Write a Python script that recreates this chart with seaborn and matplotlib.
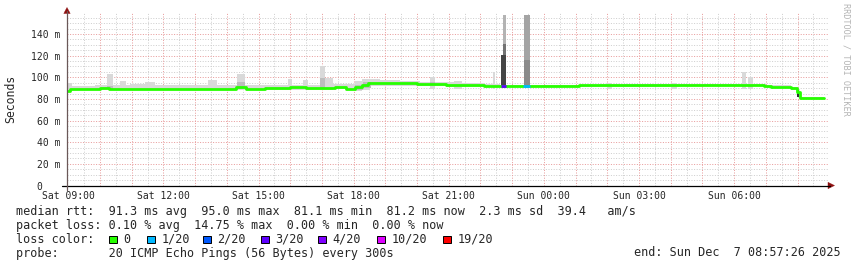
import numpy as np
import pandas as pd
import matplotlib
matplotlib.use("Agg")
import matplotlib.pyplot as plt
from matplotlib.patches import Rectangle, Polygon
from matplotlib.lines import Line2D
import seaborn as sns

# ------------------------------------------------------------------ data
# time is expressed in hours after "Sat 09:00"
view_start_h, view_end_h = -0.04, 23.96

# median rtt (ms) as step segments: value holds from t until next t
median_t = [-0.04, 0.06, 1.0, 1.3, 5.3, 5.6, 6.0, 6.2, 7.0, 7.5, 8.4, 8.75,
            9.05, 9.25, 9.45, 11.0, 11.9, 13.1, 14.36, 14.57, 16.1, 18.3,
            21.95, 22.15, 22.4, 22.55, 22.8, 22.97, 23.08]
median_ms = [87.8, 89.5, 89.8, 89.5, 90.6, 89.6, 89.2, 90.3, 90.6, 89.8, 91.0, 89.4,
             91.0, 92.6, 94.4, 94.0, 93.0, 92.3, 91.6, 92.2, 92.6, 93.2,
             91.7, 90.8, 91.3, 90.6, 89.8, 86.8, 81.2]
median_end_h = 23.82

# light smoke band (ms) around the median, step segments
band_t = [-0.04, 0.13, 0.85, 1.96, 2.74, 4.16, 5.58, 7.0, 8.36, 8.9, 9.05, 9.27,
          9.53, 9.84, 10.47, 11.1, 11.9, 12.43, 13.15, 13.63, 14.57, 16.78,
          19.3, 21.99, 22.78, 23.0, 23.09]
band_lo = [87.0, 88.0, 88.0, 88.0, 88.0, 88.0, 88.5, 88.5, 89.0, 88.0, 87.0, 88.5,
           92.0, 92.3, 92.3, 92.0, 91.5, 91.0, 91.0, 91.5, 91.5, 91.5,
           92.0, 90.3, 88.5, 81.0, 80.6]
band_hi = [94.4, 92.0, 92.5, 93.8, 93.3, 92.8, 92.8, 93.3, 93.8, 94.0, 97.0, 98.0,
           98.5, 97.5, 96.6, 96.0, 95.5, 94.5, 93.8, 92.8, 93.3, 93.8,
           94.2, 92.8, 90.8, 89.0, 82.0]

# light grey smoke bumps (single outlying pings)
bump_t0 = [1.23, 1.64, 2.43, 4.42, 5.33, 6.94, 7.41, 7.95, 8.11, 11.42, 12.15,
           13.38, 17.0, 19.0, 21.26, 21.45]
bump_t1 = [1.42, 1.83, 2.74, 4.70, 5.58, 7.07, 7.57, 8.11, 8.36, 11.58, 12.43,
           13.47, 17.15, 19.2, 21.36, 21.61]
bump_hi = [103.0, 97.0, 96.0, 97.5, 103.0, 98.4, 97.5, 110.7, 99.0, 100.5, 96.9,
           105.0, 94.5, 94.5, 105.0, 100.0]

# darker inner smoke layers
mid_t0 = [1.23, 5.33, 7.95, 9.05, 9.3, 11.42]
mid_t1 = [1.42, 5.58, 8.11, 9.3, 9.55, 11.58]
mid_lo = [89.0, 89.5, 90.0, 88.0, 90.0, 93.0]
mid_hi = [92.0, 96.0, 99.6, 93.0, 96.0, 96.0]

# high-latency spikes, layered from outer to inner
spike_t0 = [13.71, 13.71, 13.65, 14.38, 14.38, 22.97]
spike_t1 = [13.82, 13.82, 13.82, 14.57, 14.57, 23.05]
spike_lo = [131.0, 121.0, 92.0, 116.0, 92.0, 81.5]
spike_hi = [158.0, 131.0, 121.0, 158.0, 116.0, 88.5]
spike_shade = ["#b3b3b3", "#737373", "#454545", "#a4a4a4", "#8a8a8a", "#303030"]

# packet-loss periods (colored median)
loss_t0 = [13.65, 14.34]
loss_t1 = [13.82, 14.57]
loss_level = ["3/20", "1/20"]

x_tick_hours = [0, 3, 6, 9, 12, 15, 18, 21]
x_tick_labels = ["Sat 09:00", "Sat 12:00", "Sat 15:00", "Sat 18:00",
                 "Sat 21:00", "Sun 00:00", "Sun 03:00", "Sun 06:00"]
y_ticks_ms = [0, 20, 40, 60, 80, 100, 120, 140]
y_tick_labels = ["0   ", "20 m", "40 m", "60 m", "80 m", "100 m", "120 m", "140 m"]

legend_names = ["0", "1/20", "2/20", "3/20", "4/20", "10/20", "19/20"]
legend_colors = ["#26ff00", "#00b8ff", "#0059ff", "#5e00ff", "#7e00ff", "#dd00ff", "#ff0000"]

stats_lines = [
    "median rtt:  91.3 ms avg  95.0 ms max  81.1 ms min  81.2 ms now  2.3 ms sd  39.4   am/s",
    "packet loss: 0.10 % avg  14.75 % max  0.00 % min  0.00 % now",
    "loss color:",
    "probe:       20 ICMP Echo Pings (56 Bytes) every 300s",
]
end_text = "end: Sun Dec  7 08:57:26 2025"
side_text = "RRDTOOL / TOBI OETIKER"

# ------------------------------------------------------------------ style
sns.set_style("white")
MONO = ["DejaVu Sans Mono"]
plt.rcParams["font.family"] = MONO

W, H = 857, 267
fig = plt.figure(figsize=(W / 100, H / 100), dpi=100)
fig.patch.set_facecolor("white")

x0, x1, ybot, ytop = 67, 828, 185.5, 12.4
ax = fig.add_axes([x0 / W, 1 - ybot / H, (x1 - x0) / W, (ybot - ytop) / H])
ax.set_xlim(view_start_h, view_end_h)
ax.set_ylim(0, 160)
for s in ax.spines.values():
    s.set_visible(False)

# grid (dotted lines)
minor_col, major_col = "#cfcfcf", "#e89c9c"
gkw = dict(lw=0.72, ls=(0, (1, 1.6)), antialiased=True)
for h in np.arange(0.5, 24, 1.0):
    ax.axvline(h, color=minor_col, zorder=0.5, **gkw)
for h in np.arange(1, 24, 1.0):
    ax.axvline(h, color=major_col, zorder=0.6, **gkw)
for v in np.arange(5, 160, 5):
    if v % 20:
        ax.axhline(v, color=minor_col, zorder=0.5, **gkw)
for v in np.arange(20, 160, 20):
    ax.axhline(v, color=major_col, zorder=0.6, **gkw)

# smoke band
bt = band_t + [median_end_h]
ax.fill_between(bt, band_lo + [band_lo[-1]], band_hi + [band_hi[-1]],
                step="post", color="#d9d9d9", lw=0, zorder=1)
# bumps
for a, b, hi in zip(bump_t0, bump_t1, bump_hi):
    ax.fill_between([a, b], [89, 89], [hi, hi], color="#d9d9d9", lw=0, zorder=1.1)
for a, b, lo, hi in zip(mid_t0, mid_t1, mid_lo, mid_hi):
    ax.fill_between([a, b], [lo, lo], [hi, hi], color="#bdbdbd", lw=0, zorder=1.2)
for a, b, lo, hi, c in zip(spike_t0, spike_t1, spike_lo, spike_hi, spike_shade):
    ax.fill_between([a, b], [lo, lo], [hi, hi], color=c, lw=0, zorder=1.3)

# median line
med = pd.DataFrame({"t": median_t + [median_end_h], "ms": median_ms + [median_ms[-1]]})
sns.lineplot(data=med, x="t", y="ms", drawstyle="steps-post", color=legend_colors[0],
             lw=2.0, estimator=None, sort=False, ax=ax, zorder=4)

def median_at(t):
    i = np.searchsorted(median_t, t, side="right") - 1
    return median_ms[max(i, 0)]

for a, b, lvl in zip(loss_t0, loss_t1, loss_level):
    v = median_at((a + b) / 2)
    ax.plot([a, b], [v, v], color=legend_colors[legend_names.index(lvl)], lw=2.0,
            solid_capstyle="butt", zorder=5)

ax.set_xlabel("")
ax.set_ylabel("")
ax.set_xticks(x_tick_hours)
ax.set_xticklabels(x_tick_labels, fontsize=7, family=MONO)
ax.set_yticks(y_ticks_ms)
ax.set_yticklabels(y_tick_labels, fontsize=7, family=MONO)
ax.tick_params(axis="x", length=0, pad=4)
ax.tick_params(axis="y", length=0, pad=5)

# axes lines and arrows (figure pixel coordinates)
def P(x, y):
    return (x / W, 1 - y / H)

fig.add_artist(Line2D([62 / W, 830 / W], [1 - ybot / H] * 2, color="black", lw=0.9,
                      transform=fig.transFigure))
fig.add_artist(Line2D([x0 / W] * 2, [1 - 190 / H, 1 - 11 / H], color="#6a5858", lw=0.9,
                      transform=fig.transFigure))
arrow_col = "#8e1010"
fig.add_artist(Polygon([P(828, 182.3), P(834.5, 185.5), P(828, 188.7)], closed=True,
                       fc=arrow_col, ec=arrow_col, lw=0.3, transform=fig.transFigure))
fig.add_artist(Polygon([P(63.8, 13.5), P(67, 7.5), P(70.2, 13.5)], closed=True,
                       fc=arrow_col, ec=arrow_col, lw=0.3, transform=fig.transFigure))

# labels
fig.text(11 / W, 1 - 99 / H, "Seconds", rotation=90, ha="center", va="center",
         fontsize=8.3, family=MONO)
fig.text(846 / W, 1 - 59 / H, side_text, rotation=270, ha="center", va="center",
         fontsize=6.1, color="#b4b4b4", family=MONO)

line_y = [211.5, 225.3, 239.2, 253.0]
for s, y in zip(stats_lines, line_y):
    fig.text(16 / W, 1 - y / H, s, ha="left", va="center", fontsize=8.5, family=MONO)
fig.text(841 / W, 1 - line_y[3] / H, end_text, ha="right", va="center", fontsize=8.5,
         family=MONO)

box_x = [109, 147, 203, 261, 318, 377, 443]
for bx, name, col in zip(box_x, legend_names, legend_colors):
    fig.add_artist(Rectangle(P(bx, 243.2), 7.6 / W, 7.6 / H, fc=col, ec="black", lw=0.7,
                             transform=fig.transFigure))
    fig.text((bx + 14.5) / W, 1 - line_y[2] / H, name, ha="left", va="center",
             fontsize=8.5, family=MONO)

fig.savefig("out.png", dpi=100, facecolor="white")
